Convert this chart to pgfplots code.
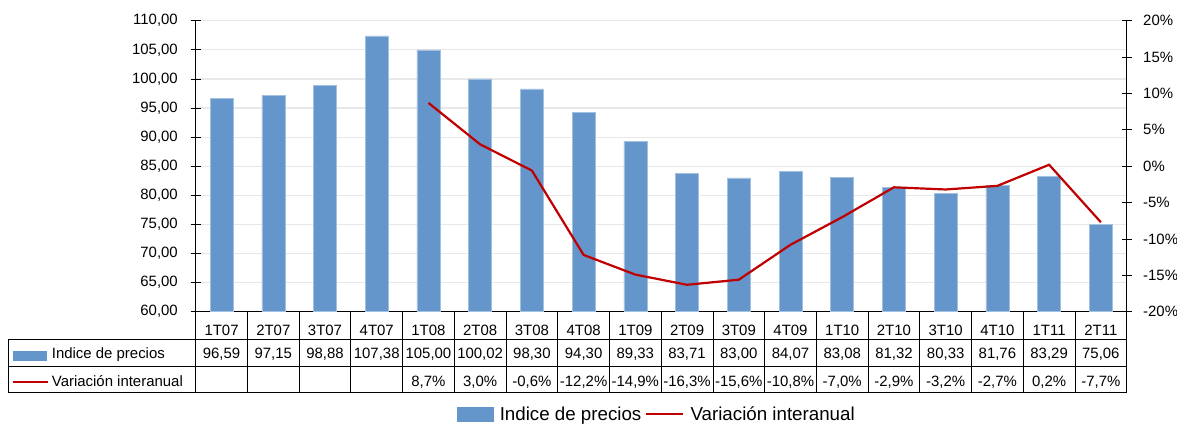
\documentclass[border=0pt]{standalone}
\usepackage{pgfplots}
\pgfplotsset{compat=1.18}
\usepackage{fontspec}
\setmainfont{Liberation Sans}
\definecolor{barblue}{RGB}{100,150,204}
\definecolor{linered}{RGB}{192,0,0}
\definecolor{gridgray}{RGB}{232,232,232}
\newcommand{\tf}{\fontsize{15}{18}\selectfont}
\begin{document}
\begin{tikzpicture}
\useasboundingbox (-195.7bp,-113.3bp) rectangle (981.3bp,311.7bp);
\begin{axis}[
  at={(0,0)}, anchor=south west,
  scale only axis, width=931bp, height=291bp,
  xmin=-0.5, xmax=17.5, ymin=60, ymax=110,
  axis x line*=bottom, axis y line*=left,
  axis line style={black, line width=0.8bp, -},
  xtick={0,...,17},
  xticklabels={1T07,2T07,3T07,4T07,1T08,2T08,3T08,4T08,1T09,2T09,3T09,4T09,1T10,2T10,3T10,4T10,1T11,2T11},
  xtick style={draw=none},
  xticklabel style={anchor=base, yshift=-19bp, inner sep=0pt},
  ytick={60,65,...,110},
  yticklabels={{60,00},{65,00},{70,00},{75,00},{80,00},{85,00},{90,00},{95,00},{100,00},{105,00},{110,00}},
  yticklabel style={anchor=east, inner sep=0pt, xshift=-12.7bp},
  ytick style={black, line width=0.8bp},
  tick align=center, major tick length=10bp,
  ymajorgrids, grid style={gridgray, line width=1.2bp},
  tick label style={font=\tf},
]
\addplot[ybar, bar width=23bp, fill=barblue, draw=barblue!60!white, line width=0.5bp] coordinates {
(0,96.59) (1,97.15) (2,98.88) (3,107.38) (4,105.00) (5,100.02) (6,98.30) (7,94.30) (8,89.33)
(9,83.71) (10,83.00) (11,84.07) (12,83.08) (13,81.32) (14,80.33) (15,81.76) (16,83.29) (17,75.06)};
\end{axis}
\begin{axis}[
  at={(0,0)}, anchor=south west,
  scale only axis, width=931bp, height=291bp,
  xmin=-0.5, xmax=17.5, ymin=-20, ymax=20,
  axis y line*=right, axis x line=none,
  axis line style={black, line width=0.8bp, -},
  ytick={-20,-15,...,20},
  yticklabels={{-20\%},{-15\%},{-10\%},{-5\%},{0\%},{5\%},{10\%},{15\%},{20\%}},
  yticklabel style={anchor=west, inner sep=0pt, xshift=11.3bp},
  ytick style={black, line width=0.8bp},
  tick align=center, major tick length=10bp,
  tick label style={font=\tf},
  legend columns=2,
  legend style={draw=none, fill=none, inner sep=0pt,
    at={(axis description cs:0.2803,-0.352)}, anchor=west,
    font=\fontsize{18.8}{22}\selectfont,
    nodes={inner xsep=3.5bp, inner ysep=0pt},
    /tikz/every odd column/.append style={column sep=3bp}},
]
\addlegendimage{legend image code/.code={\fill[barblue] (0bp,-7bp) rectangle (36bp,7bp);}}
\addlegendentry{Indice de precios\hspace{17bp}}
\addplot[linered, line width=2.2bp, legend image code/.code={\draw[linered, line width=2.2bp] (0bp,0bp) -- (37bp,0bp);}] coordinates {
(4,8.7) (5,3.0) (6,-0.6) (7,-12.2) (8,-14.9) (9,-16.3) (10,-15.6) (11,-10.8) (12,-7.0)
(13,-2.9) (14,-3.2) (15,-2.7) (16,0.2) (17,-7.7)};
\addlegendentry{Variación interanual}
\end{axis}
% data table below the chart
\begin{scope}[line width=0.8bp, black]
\draw (-187.4bp,-27.6bp) -- (931bp,-27.6bp);
\draw (-187.4bp,-54.3bp) -- (931bp,-54.3bp);
\draw (-187.4bp,-80.3bp) -- (931bp,-80.3bp);
\draw (-187.4bp,-27.6bp) -- (-187.4bp,-80.3bp);
\foreach \k in {0,...,18} \draw ({\k*51.7222bp},0bp) -- ({\k*51.7222bp},-80.3bp);
\end{scope}
\fill[barblue] (-182.4bp,-39.3bp) rectangle (-148.7bp,-49.3bp);
\draw[linered, line width=2.2bp] (-182.7bp,-70.6bp) -- (-147.7bp,-70.6bp);
\node[anchor=base west, inner sep=0pt, font=\tf] at (-144bp,-46.5bp) {Indice de precios};
\node[anchor=base west, inner sep=0pt, font=\tf] at (-144bp,-75bp) {Variación interanual};
\foreach \v [count=\i from 0] in {{96,59},{97,15},{98,88},{107,38},{105,00},{100,02},{98,30},{94,30},{89,33},{83,71},{83,00},{84,07},{83,08},{81,32},{80,33},{81,76},{83,29},{75,06}}
  \node[anchor=base, inner sep=0pt, font=\tf] at ({(\i+0.5)*51.7222bp},-46.5bp) {\v};
\foreach \v [count=\i from 4] in {{8,7\%},{3,0\%},{-0,6\%},{-12,2\%},{-14,9\%},{-16,3\%},{-15,6\%},{-10,8\%},{-7,0\%},{-2,9\%},{-3,2\%},{-2,7\%},{0,2\%},{-7,7\%}}
  \node[anchor=base, inner sep=0pt, font=\tf] at ({(\i+0.5)*51.7222bp},-75bp) {\v};
\end{tikzpicture}
\end{document}
